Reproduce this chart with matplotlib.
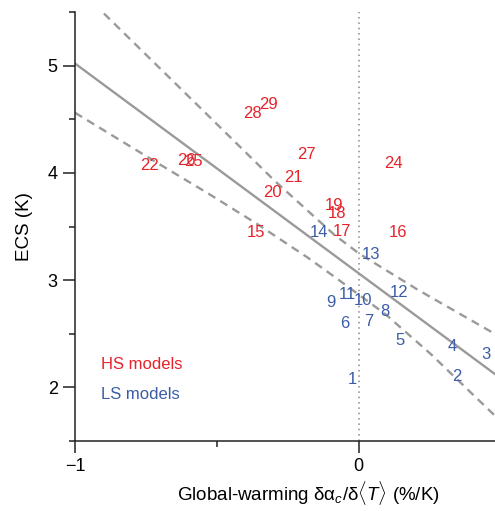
import matplotlib
matplotlib.use("Agg")
import matplotlib.pyplot as plt
import numpy as np

plt.rcParams['font.family'] = ['Liberation Sans', 'DejaVu Sans']
plt.rcParams['mathtext.fontset'] = 'custom'
plt.rcParams['mathtext.rm'] = 'Liberation Sans'
plt.rcParams['mathtext.it'] = 'Liberation Sans:italic'

# HS models (red)
hs_ids = [15, 16, 17, 18, 19, 20, 21, 22, 24, 25, 26, 27, 28, 29]
hs_x = [-0.363, 0.137, -0.060, -0.077, -0.088, -0.303, -0.229, -0.736, 0.123, -0.581, -0.609, -0.183, -0.373, -0.317]
hs_y = [3.44, 3.44, 3.45, 3.62, 3.70, 3.82, 3.96, 4.07, 4.09, 4.11, 4.12, 4.17, 4.55, 4.64]

# LS models (blue)
ls_ids = [1, 2, 3, 4, 5, 6, 7, 8, 9, 10, 11, 12, 13, 14]
ls_x = [-0.021, 0.345, 0.447, 0.331, 0.144, -0.049, 0.035, 0.092, -0.099, 0.014, -0.039, 0.141, 0.042, -0.141]
ls_y = [2.07, 2.10, 2.31, 2.38, 2.44, 2.60, 2.61, 2.71, 2.79, 2.81, 2.87, 2.88, 3.24, 3.44]

# regression fit
fit_intercept = 3.063
fit_slope = -1.957
fit_x = [-1.0, 0.48]

# confidence band
upper_x = [-0.898, -0.556, -0.296, -0.085, 0.0, 0.208, 0.482]
upper_y = [5.486, 4.60, 3.925, 3.42, 3.25, 2.91, 2.495]
lower_x = [-1.0, -0.708, -0.532, -0.356, -0.180, -0.085, 0.095, 0.254, 0.482]
lower_y = [4.561, 4.09, 3.81, 3.52, 3.21, 3.03, 2.68, 2.31, 1.73]

red = '#E5232B'
blue = '#3B5CA8'
gray = '#9A9A9A'

fig = plt.figure(figsize=(4.95, 5.11), dpi=100)
ax = fig.add_axes([0.1515, 0.137, 0.8485, 0.8395])

ax.axvline(0, color='#888888', lw=1.1, ls=(0, (1, 2.5)), zorder=1)

fx = np.array(fit_x)
ax.plot(fx, fit_intercept + fit_slope * fx, color=gray, lw=1.7, zorder=2)
ax.plot(upper_x, upper_y, color=gray, lw=1.7, dashes=(3.5, 2.5), zorder=2)
ax.plot(lower_x, lower_y, color=gray, lw=1.7, dashes=(3.5, 2.5), zorder=2)

for i, x, y in zip(hs_ids, hs_x, hs_y):
    ax.text(x, y, str(i), color=red, fontsize=12, ha='center', va='center', zorder=3)
for i, x, y in zip(ls_ids, ls_x, ls_y):
    ax.text(x, y, str(i), color=blue, fontsize=12, ha='center', va='center', zorder=3)

ax.text(-0.908, 2.215, 'HS models', color=red, fontsize=12, ha='left', va='center')
ax.text(-0.908, 1.935, 'LS models', color=blue, fontsize=12, ha='left', va='center')

ax.set_xlim(-1, 0.48)
ax.set_ylim(1.5, 5.5)
ax.set_xticks([-1, 0])
ax.set_xticklabels(['\u22121', '0'])
ax.set_xticks([-0.5], minor=True)
ax.set_yticks([2, 3, 4, 5])
ax.set_yticks([1.5, 2.5, 3.5, 4.5, 5.5], minor=True)

for s in ['top', 'right']:
    ax.spines[s].set_visible(False)
for s in ['left', 'bottom']:
    ax.spines[s].set_linewidth(1.1)
    ax.spines[s].set_color('#222222')

ax.tick_params(which='major', length=8.5, width=1.1, color='#222222', labelsize=13, pad=4)
ax.tick_params(which='minor', length=4.5, width=1.1, color='#222222')

ax.set_ylabel('ECS (K)', fontsize=13.5)
ax.yaxis.set_label_coords(-0.12, 0.5)
ax.yaxis.label.set_va('center')
ax.set_xlabel(r'Global-warming $\mathrm{\delta}\mathrm{\alpha}_c/\mathrm{\delta}\langle T\rangle$ (%/K)', fontsize=13.5)
ax.xaxis.label.set_va('center')
ax.xaxis.set_label_coords(0.555, -0.121)

fig.savefig('out.png', dpi=100)
